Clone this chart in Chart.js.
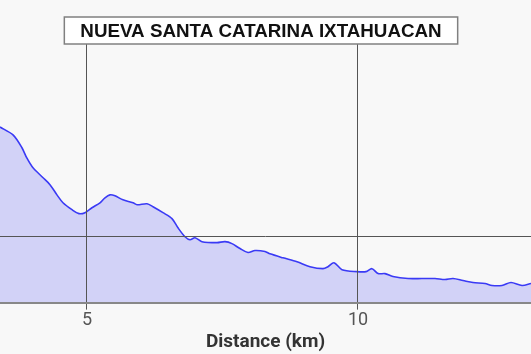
<!DOCTYPE html>
<html lang="en">
<head>
    <meta charset="UTF-8">
    <title>Elevation profile</title>
    <script src="https://cdn.jsdelivr.net/npm/chart.js"></script>
    <style>
        html, body { margin: 0; padding: 0; background: #f8f8f8; }
        #wrap { width: 531px; height: 354px; }
    </style>
</head>
<body>
    <div id="wrap"><canvas id="profile"></canvas></div>
    <script>
        // distance along the road (km) and elevation (m)
        let distances = [3.395, 3.635, 3.80, 3.89, 4.004, 4.19, 4.317, 4.446, 4.557, 4.723, 4.852, 4.963,
            5.092, 5.24, 5.332, 5.424, 5.517, 5.664, 5.849, 5.923, 6.107, 6.218, 6.402, 6.568, 6.679,
            6.808, 6.90, 6.993, 7.122, 7.399, 7.546, 7.675, 7.823, 7.97, 8.10, 8.284, 8.376, 8.616,
            8.875, 9.114, 9.354, 9.446, 9.557, 9.705, 9.982, 10.148, 10.258, 10.369, 10.498, 10.646,
            10.923, 11.181, 11.421, 11.605, 11.753, 11.937, 12.122, 12.343, 12.472, 12.657, 12.823,
            13.026, 13.192];
        let elevations = [2333, 2309, 2270, 2239, 2209, 2179, 2158, 2127, 2103, 2082, 2070, 2073,
            2088, 2103, 2118, 2127, 2124, 2112, 2103, 2097, 2100, 2091, 2073, 2055, 2027,
            2000, 1991, 1997, 1985, 1982, 1985, 1979, 1964, 1952, 1958, 1955, 1948, 1936,
            1924, 1909, 1903, 1909, 1921, 1900, 1894, 1894, 1903, 1888, 1888, 1879,
            1873, 1873, 1873, 1870, 1873, 1867, 1861, 1858, 1852, 1852, 1861,
            1852, 1858];
        let xTicks = [5, 10];
        let yTicks = [2000];
        let placeName = "NUEVA SANTA CATARINA IXTAHUACAN";

        let points = distances.map((d, i) => ({ x: d, y: elevations[i] }));

        // name box drawn over the top of the plot
        let nameBox = {
            id: "nameBox",
            afterDraw(chart) {
                let ctx = chart.ctx;
                ctx.save();
                ctx.font = "bold 18.8px 'Liberation Sans', Arial, sans-serif";
                let w = ctx.measureText(placeName).width + 32;
                let cx = 261;
                let top = 17, h = 27;
                ctx.fillStyle = "#ffffff";
                ctx.fillRect(cx - w / 2, top, w, h);
                ctx.strokeStyle = "#808080";
                ctx.lineWidth = 1.5;
                ctx.strokeRect(cx - w / 2, top, w, h);
                ctx.fillStyle = "#111111";
                ctx.textAlign = "center";
                ctx.textBaseline = "middle";
                ctx.fillText(placeName, cx, top + h / 2 + 1);
                ctx.restore();
            }
        };

        new Chart(document.getElementById("profile"), {
            type: "line",
            data: {
                datasets: [{
                    data: points,
                    borderColor: "#3a3af5",
                    borderWidth: 1.6,
                    backgroundColor: "#d2d2f7",
                    fill: "start",
                    pointRadius: 0,
                    tension: 0.3
                }]
            },
            options: {
                responsive: true,
                maintainAspectRatio: false,
                animation: false,
                layout: { padding: { top: 44, left: 0, right: 0, bottom: 0 } },
                plugins: { legend: { display: false }, tooltip: { enabled: false } },
                scales: {
                    x: {
                        type: "linear",
                        min: 3.395,
                        max: 13.192,
                        afterBuildTicks: axis => { axis.ticks = xTicks.map(v => ({ value: v })); },
                        grid: { color: "#555555", lineWidth: 1, tickLength: 7, z: 1 },
                        border: { color: "#888888", width: 2, z: 1 },
                        ticks: { color: "#555555", font: { family: "Roboto", size: 18 }, padding: 0 },
                        title: {
                            display: true,
                            text: "Distance (km)",
                            color: "#333333",
                            font: { family: "Roboto", size: 19, weight: "bold" },
                            padding: { top: 0, bottom: 0 }
                        }
                    },
                    y: {
                        min: 1800,
                        max: 2585,
                        afterBuildTicks: axis => { axis.ticks = yTicks.map(v => ({ value: v })); },
                        grid: { color: "#555555", lineWidth: 1, drawTicks: false, z: 1 },
                        border: { display: false },
                        ticks: { display: false }
                    }
                }
            },
            plugins: [nameBox]
        });
    </script>
</body>
</html>
